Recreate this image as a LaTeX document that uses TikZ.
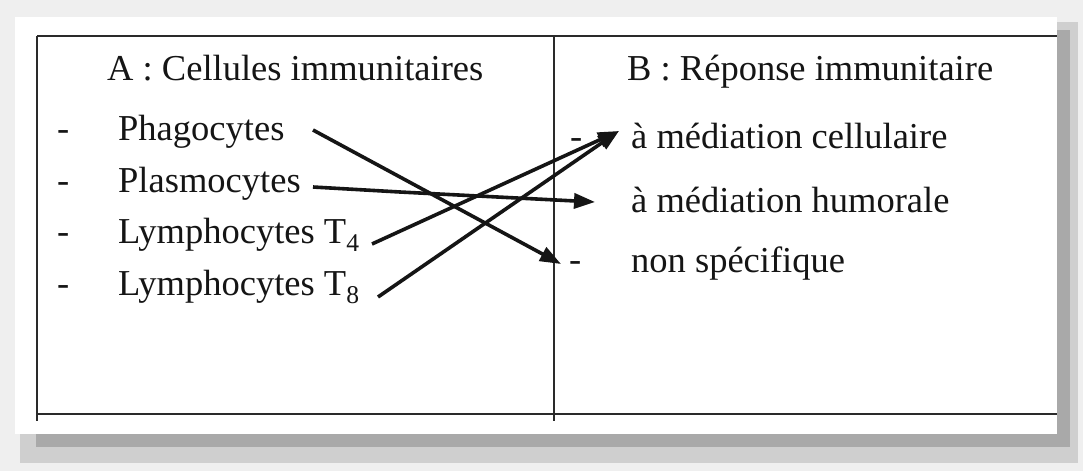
\documentclass[tikz,border=0pt]{standalone}
\usepackage{fontspec}
\setmainfont{Liberation Serif}
\usetikzlibrary{arrows.meta}
\definecolor{bgout}{HTML}{EFEFEF}
\definecolor{shadowlight}{HTML}{CFCFCF}
\definecolor{shadowdark}{HTML}{A9A9A9}
\definecolor{ink}{HTML}{151515}
\definecolor{rule}{HTML}{2A2A2A}
\tikzset{
  lbl/.style={inner sep=0pt, anchor=base west, text=ink, font=\fontsize{36.5}{40}\selectfont},
  frameline/.style={draw=rule, line width=2.6pt},
  link/.style={draw=ink, line width=3.6pt, -{Triangle[length=21pt,width=15pt]}},
}
\begin{document}
\begin{tikzpicture}[x=1pt,y=-1pt]
\useasboundingbox (0,0) rectangle (1083,471);
% background and shadow
\fill[bgout] (0,0) rectangle (1083,471);
\fill[shadowlight] (20,22) rectangle (1078,463);
\fill[shadowdark] (36,30) rectangle (1070,447);
\fill[white] (15,17) rectangle (1057,434);
% frame
\draw[frameline] (37,36) -- (1057,36);
\draw[frameline] (37,414) -- (1057,414);
\draw[frameline] (37,36) -- (37,421);
\draw[frameline] (554,36) -- (554,421);
% headings
\node[lbl] (hA) at (107,80) {A : Cellules immunitaires};
\node[lbl] (hB) at (627,80) {B : Réponse immunitaire};
% left items
\node[lbl] (dA1) at (57,140) {-};
\node[lbl] (dA2) at (57,192) {-};
\node[lbl] (dA3) at (57,243) {-};
\node[lbl] (dA4) at (57,295) {-};
\node[lbl] (phago) at (118,140) {Phagocytes};
\node[lbl] (plasmo) at (118,192) {Plasmocytes};
\node[lbl] (lt4) at (118,243) {Lymphocytes T\textsubscript{4}};
\node[lbl] (lt8) at (118,295) {Lymphocytes T\textsubscript{8}};
% right items
\node[lbl] (dB1) at (570,148) {-};
\node[lbl] (dB3) at (569,271) {-};
\node[lbl] (cell) at (631,148) {à médiation cellulaire};
\node[lbl] (humo) at (631,212) {à médiation humorale};
\node[lbl] (nonspe) at (631,272) {non spécifique};
% connector ends
\coordinate (sPhago) at (313,130);
\coordinate (sPlasmo) at (313,187);
\coordinate (sT4) at (372,244);
\coordinate (sT8) at (378,297);
\coordinate (eNon) at (561,264);
\coordinate (eHumo) at (595,202);
\coordinate (eCell) at (619,131);
% arrows
\draw[link] (sPhago) -- (eNon);
\draw[link] (sPlasmo) -- (400,192) -- (eHumo);
\draw[link] (sT4) -- (eCell);
\draw[link] (sT8) -- (eCell);
\end{tikzpicture}
\end{document}
